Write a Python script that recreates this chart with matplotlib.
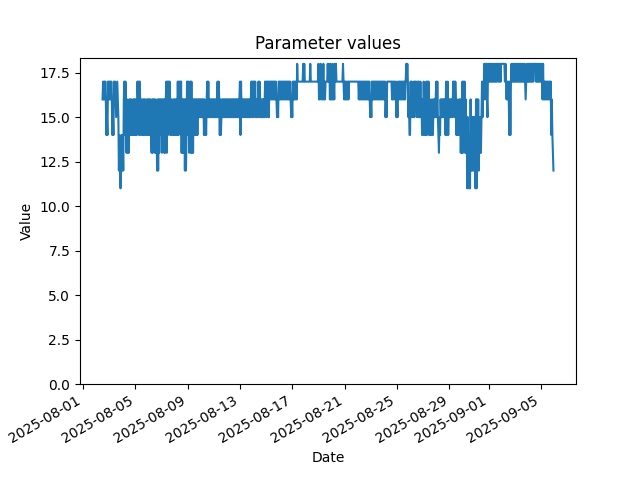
import matplotlib
matplotlib.use("Agg")
import matplotlib.pyplot as plt
import pandas as pd

start_time = "2025-08-02 12:00"
step = "1h"

# hourly readings, one row per day (first day starts at 12:00)
daily_values = [
    [16, 17, 16, 17, 16, 17, 16, 14, 15, 14, 17, 16],                                            # 08-02
    [17, 16, 17, 16, 17, 16, 14, 15, 14, 17, 16, 17, 16, 15, 16, 17, 16, 15, 12, 14, 12, 11, 12, 14],  # 08-03
    [12, 14, 12, 16, 17, 14, 17, 16, 13, 16, 13, 15, 13, 16, 14, 16, 14, 16, 15, 14, 16, 14, 16, 14],  # 08-04
    [16, 14, 16, 14, 17, 16, 17, 14, 17, 16, 14, 16, 15, 14, 16, 14, 16, 14, 16, 15, 14, 16, 14, 16],  # 08-05
    [16, 14, 16, 14, 16, 14, 13, 16, 13, 16, 14, 16, 13, 16, 13, 15, 12, 16, 12, 16, 13, 16, 14, 16],  # 08-06
    [16, 13, 16, 14, 16, 13, 16, 13, 16, 17, 13, 17, 14, 17, 16, 17, 14, 16, 14, 16, 15, 14, 16, 14],  # 08-07
    [16, 14, 16, 14, 16, 14, 17, 14, 17, 16, 17, 14, 17, 13, 16, 13, 16, 13, 16, 12, 16, 12, 14, 17],  # 08-08
    [17, 14, 17, 13, 16, 17, 13, 17, 13, 16, 13, 16, 14, 16, 14, 16, 14, 16, 14, 16, 15, 16, 15, 16],  # 08-09
    [15, 16, 15, 16, 15, 16, 14, 16, 14, 15, 14, 16, 17, 15, 17, 15, 16, 15, 16, 15, 16, 15, 16, 15],  # 08-10
    [16, 15, 16, 15, 16, 15, 16, 17, 15, 17, 16, 14, 16, 14, 15, 16, 15, 16, 15, 16, 15, 16, 15, 16],  # 08-11
    [15, 16, 15, 16, 15, 16, 15, 16, 15, 16, 15, 16, 15, 16, 15, 16, 15, 16, 15, 16, 15, 16, 15, 16],  # 08-12
    [17, 14, 17, 15, 16, 15, 16, 15, 16, 15, 16, 15, 16, 15, 16, 15, 16, 15, 16, 15, 16, 17, 15, 17],  # 08-13
    [17, 15, 17, 16, 17, 15, 16, 15, 16, 15, 17, 16, 17, 15, 16, 15, 16, 15, 16, 15, 16, 15, 17, 16],  # 08-14
    [17, 15, 17, 16, 17, 15, 17, 16, 17, 16, 17, 16, 17, 16, 17, 16, 17, 16, 17, 16, 15, 16, 15, 17],  # 08-15
    [17, 16, 17, 16, 17, 16, 17, 16, 17, 16, 17, 16, 17, 16, 17, 16, 17, 16, 17, 16, 17, 16, 15, 16],  # 08-16
    [15, 17, 16, 17, 16, 17, 16, 17, 16, 18, 17, 17, 17, 17, 17, 17, 17, 17, 17, 17, 18, 17, 18, 17],  # 08-17
    [17, 17, 17, 17, 17, 17, 17, 17, 17, 18, 17, 17, 17, 17, 17, 17, 17, 17, 17, 17, 17, 17, 17, 17],  # 08-18
    [18, 16, 17, 16, 18, 17, 16, 17, 16, 18, 16, 17, 16, 17, 17, 17, 17, 18, 17, 17, 18, 16, 18, 16],  # 08-19
    [17, 16, 18, 16, 17, 16, 18, 17, 18, 17, 17, 17, 17, 17, 17, 17, 17, 17, 17, 17, 17, 18, 17, 16],  # 08-20
    [17, 16, 17, 16, 17, 16, 17, 16, 17, 17, 17, 17, 17, 17, 17, 17, 17, 17, 17, 17, 17, 17, 17, 17],  # 08-21
    [17, 17, 16, 17, 16, 17, 16, 17, 16, 17, 16, 17, 16, 17, 16, 17, 16, 17, 16, 17, 16, 17, 16, 15],  # 08-22
    [16, 15, 17, 16, 17, 16, 17, 16, 17, 16, 17, 16, 17, 16, 17, 16, 17, 16, 17, 16, 17, 16, 17, 16],  # 08-23
    [17, 16, 17, 15, 16, 15, 17, 17, 17, 17, 17, 17, 17, 17, 17, 16, 17, 16, 17, 16, 17, 16, 17, 15],  # 08-24
    [16, 15, 17, 16, 17, 16, 17, 16, 17, 16, 17, 16, 17, 16, 17, 16, 17, 18, 17, 18, 17, 15, 16, 14],  # 08-25
    [14, 17, 15, 17, 15, 16, 15, 17, 15, 17, 16, 17, 16, 15, 17, 15, 17, 16, 15, 17, 15, 16, 14, 16],  # 08-26
    [14, 17, 15, 14, 16, 14, 17, 14, 17, 15, 17, 14, 16, 14, 15, 14, 16, 15, 14, 16, 15, 16, 15, 16],  # 08-27
    [17, 15, 17, 15, 14, 13, 15, 14, 16, 15, 16, 15, 16, 15, 16, 15, 16, 14, 17, 14, 16, 17, 14, 16],  # 08-28
    [15, 16, 15, 16, 15, 16, 15, 17, 16, 17, 15, 17, 16, 14, 16, 14, 15, 14, 16, 15, 16, 13, 16, 13],  # 08-29
    [17, 13, 17, 14, 17, 13, 16, 13, 15, 11, 15, 12, 11, 14, 11, 16, 12, 15, 12, 15, 12, 15, 12, 15],  # 08-30
    [11, 16, 11, 16, 12, 16, 12, 15, 13, 15, 13, 15, 17, 15, 17, 16, 18, 16, 18, 17, 18, 16, 15, 18],  # 08-31
    [18, 17, 18, 17, 18, 17, 18, 17, 18, 17, 18, 17, 18, 17, 18, 17, 18, 18, 17, 18, 17, 18, 17, 18],  # 09-01
    [18, 18, 18, 18, 18, 18, 17, 18, 17, 16, 17, 16, 17, 16, 14, 17, 14, 17, 18, 17, 18, 17, 18, 17],  # 09-02
    [18, 17, 18, 17, 18, 17, 18, 17, 18, 17, 18, 17, 18, 17, 18, 17, 18, 17, 18, 17, 16, 17, 18, 17],  # 09-03
    [17, 18, 17, 18, 17, 18, 17, 18, 17, 18, 17, 18, 18, 18, 18, 17, 18, 17, 18, 17, 18, 17, 18, 17],  # 09-04
    [18, 17, 18, 16, 18, 16, 17, 16, 17, 16, 17, 16, 17, 16, 17, 16, 17, 16, 17, 14, 16, 14, 13, 12],  # 09-05
]

values = [v for day in daily_values for v in day]
times = pd.date_range(start=start_time, periods=len(values), freq=step)

fig, ax = plt.subplots(figsize=(6.4, 4.8), dpi=100)
ax.plot(times, values)
ax.set_ylim(bottom=0)
ax.set_title("Parameter values")
ax.set_xlabel("Date")
ax.set_ylabel("Value")
fig.autofmt_xdate()
fig.savefig("out.png")
